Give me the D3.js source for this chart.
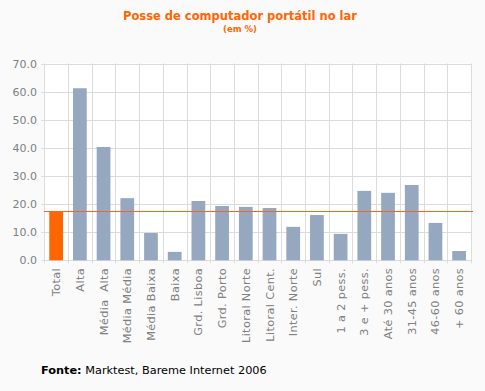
<!DOCTYPE html>
<html><head><meta charset="utf-8">
<script src="https://cdn.jsdelivr.net/npm/d3@7"></script>
<style>body{margin:0;background:#fafafa;}svg{display:block;font-family:"DejaVu Sans",Verdana,sans-serif;}</style>
</head><body><svg id="c" width="485" height="391"></svg>
<script>
const categories = ["Total","Alta","Média  Alta","Média Média","Média Baixa","Baixa","Grd. Lisboa","Grd. Porto","Litoral Norte","Litoral Cent.","Inter. Norte","Sul","1 a 2 pess.","3 e + pess.","Até 30 anos","31-45 anos","46-60 anos","+ 60 anos"];
const values = [17.4,61.2,40.3,22.1,9.7,3.0,21.1,19.3,19.0,18.6,11.9,16.1,9.4,24.7,24.0,26.8,13.3,3.3];
const yTicks = [0,10,20,30,40,50,60,70];
const totalValue = 17.4;

const svg = d3.select("#c");
const L=44.3, R=471, T=63.5, B=260.3;
const x = d3.scaleBand().domain(categories).range([L,R]).paddingInner(0.42).paddingOuter(0.21);
const y = d3.scaleLinear().domain([0,70]).range([B,T]);

svg.append("rect").attr("width",485).attr("height",391).attr("fill","#fafafa");
svg.append("rect").attr("x",L).attr("y",T).attr("width",R-L).attr("height",B-T).attr("fill","#ffffff");

// horizontal grid
svg.append("g").selectAll("line").data(yTicks).join("line")
  .attr("x1",L-3).attr("x2",R).attr("y1",d=>Math.round(y(d))+0.5).attr("y2",d=>Math.round(y(d))+0.5)
  .attr("stroke","#dcdcdc").attr("stroke-width",1);
// vertical grid at band boundaries
const bounds = categories.map((c,i)=>L + i*(R-L)/categories.length).concat([R]);
svg.append("g").selectAll("line").data(bounds).join("line")
  .attr("x1",d=>Math.round(d)+0.5).attr("x2",d=>Math.round(d)+0.5).attr("y1",T).attr("y2",B+3)
  .attr("stroke","#dcdcdc").attr("stroke-width",1);

// y labels
svg.append("g").selectAll("text").data(yTicks).join("text")
  .attr("x",37).attr("y",d=>y(d)+4).attr("text-anchor","end")
  .attr("font-size",11).attr("fill","#808080").text(d=>d.toFixed(1));

// bars
svg.append("g").selectAll("rect").data(values).join("rect")
  .attr("x",(d,i)=>x(categories[i])).attr("width",x.bandwidth())
  .attr("y",d=>y(d)).attr("height",d=>B-y(d))
  .attr("fill",(d,i)=>i===0?"#ff6600":"#96a8bf");

// total line
const ty = Math.round(y(totalValue))+0.5;
svg.append("line").attr("x1",L).attr("x2",473).attr("y1",ty).attr("y2",ty)
  .attr("stroke","#ee6a1a").attr("stroke-width",1).attr("shape-rendering","crispEdges");

// x labels
svg.append("g").selectAll("text").data(categories).join("text")
  .attr("transform",d=>`translate(${x(d)+x.bandwidth()/2+4},268) rotate(-90)`)
  .attr("text-anchor","end").attr("font-size",11.3).attr("letter-spacing",0.35).attr("fill","#808080").text(d=>d)
  .attr("xml:space","preserve").style("white-space","pre");

// title
svg.append("text").attr("x",240).attr("y",20).attr("text-anchor","middle")
  .attr("font-size",11.5).attr("font-weight","bold").attr("fill","#ff6600").text("Posse de computador portátil no lar");
svg.append("text").attr("x",240).attr("y",32).attr("text-anchor","middle")
  .attr("font-size",8.5).attr("font-weight","bold").attr("fill","#ff6600").text("(em %)");

// footer
const f = svg.append("text").attr("x",41).attr("y",374).attr("font-size",11.3).attr("fill","#000");
f.append("tspan").attr("font-weight","bold").text("Fonte:");
f.append("tspan").text(" Marktest, Bareme Internet 2006");
</script></body></html>
